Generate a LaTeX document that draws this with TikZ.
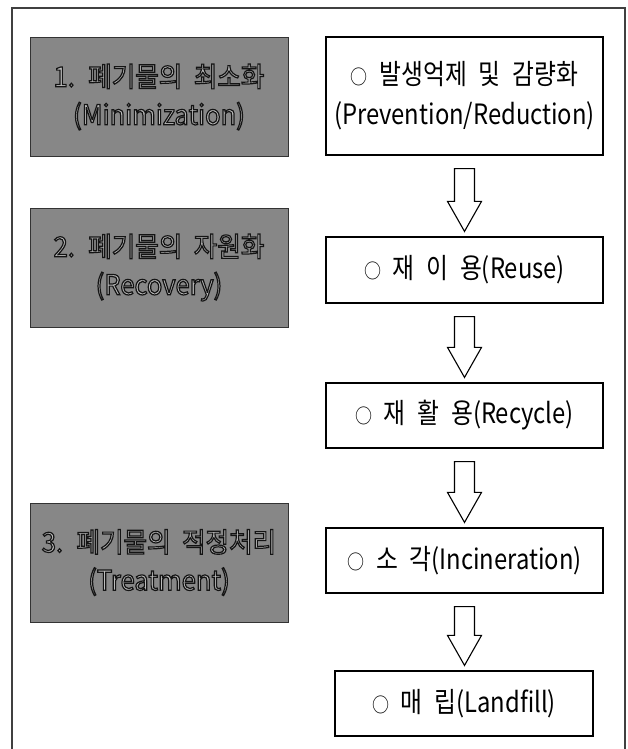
\documentclass[tikz,border=0pt]{standalone}
\usepackage{fontspec}
\setmainfont{Noto Sans CJK KR}
\newfontfamily\diagfont[FakeStretch=0.85,WordSpace=2.2]{Noto Sans CJK KR}
\newfontfamily\stagefont[FakeStretch=0.93,WordSpace=2]{Noto Sans CJK KR}
\usetikzlibrary{calc}

% outlined lettering for the shaded stage labels
\newcommand\outlinetext[1]{\special{pdf:literal direct 2 Tr 1.2 w 0.08 0.08 0.08 RG}#1\special{pdf:literal direct 0 Tr}}
\newcommand\bullettext{{\fontsize{20}{20}\selectfont ○}}

\definecolor{stagegray}{HTML}{878787}
\definecolor{stagetext}{HTML}{BDBDBD}

\tikzset{
  stagebox/.style={draw=black!80, line width=0.9pt, fill=stagegray,
    minimum width=258pt, minimum height=119pt, align=center, inner sep=0pt,
    text=stagetext, font=\stagefont\fontsize{27.5}{38}\selectfont},
  flowbox/.style={draw=black, line width=1.2pt, fill=white,
    minimum width=277pt, minimum height=65pt, align=center, inner sep=0pt,
    font=\diagfont\fontsize{28}{40}\selectfont},
  blockarrow/.style={draw=black, line width=1.1pt, fill=white, line join=miter},
  frameline/.style={draw=black!75, line width=1.1pt}
}

% hollow downward block arrow between two stacked boxes
\newcommand\flowarrow[2]{%
  \draw[blockarrow] let \p1=(#1.south), \p2=(#2.north) in
    (\x1-10pt,\y1-13pt) -- (\x1+10pt,\y1-13pt) -- (\x1+10pt,\y2+35pt)
    -- (\x1+17pt,\y2+35pt) -- (\x1,\y2+5pt) -- (\x1-17pt,\y2+35pt)
    -- (\x1-10pt,\y2+35pt) -- cycle;}

\begin{document}
\begin{tikzpicture}[x=1pt,y=-1pt]
\useasboundingbox (0,0) rectangle (627,749);
\fill[white] (0,0) rectangle (627,749);

% outer frame, open at the bottom edge
\coordinate (fbl) at (12,752);
\coordinate (ftl) at (12,8);
\coordinate (ftr) at (625,8);
\coordinate (fbr) at (625,752);
\draw[frameline] (fbl) -- (ftl) -- (ftr) -- (fbr);

% stage labels
\node[stagebox] (g1) at (159,97) {\outlinetext{1. 폐기물의 최소화}\\\outlinetext{(Minimization)}};
\node[stagebox] (g2) at (159,267.5) {\outlinetext{2. 폐기물의 자원화}\\\outlinetext{(Recovery)}};
\node[stagebox] (g3) at (159,562.5) {\outlinetext{3. 폐기물의 적정처리}\\\outlinetext{(Treatment)}};

% waste management hierarchy
\node[flowbox, minimum height=118pt] (a) at (464.5,96) {\bullettext\ 발생억제 및 감량화\\(Prevention/Reduction)};
\node[flowbox, minimum height=66pt] (b) at (464.5,270) {\bullettext\ 재 이 용(Reuse)};
\node[flowbox] (c) at (464.5,415.5) {\bullettext\ 재 활 용(Recycle)};
\node[flowbox] (d) at (464.5,560.5) {\bullettext\ 소 각(Incineration)};
\node[flowbox, minimum width=258pt] (e) at (464,703.5) {\bullettext\ 매 립(Landfill)};

\flowarrow{a}{b}
\flowarrow{b}{c}
\flowarrow{c}{d}
\flowarrow{d}{e}
\end{tikzpicture}
\end{document}
